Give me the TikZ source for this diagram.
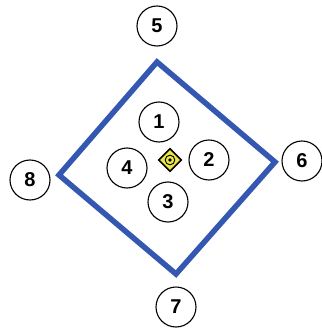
\documentclass[tikz,border=0pt]{standalone}
\usepackage{fontspec}
\setmainfont{Liberation Sans}
\usetikzlibrary{shapes.geometric}
\definecolor{frameblue}{RGB}{52,88,178}
\definecolor{markyellow}{RGB}{236,230,70}
\begin{document}
\begin{tikzpicture}[x=1pt,y=-1pt,line width=1.1pt,
  spot/.style={draw,circle,minimum size=40pt,inner sep=0pt,font=\fontsize{20}{22}\selectfont\bfseries}]
\path[use as bounding box] (0,0) rectangle (321,329);
\coordinate (top) at (157,62);
\coordinate (right) at (275,162);
\coordinate (bottom) at (176,274);
\coordinate (left) at (59,175);
\draw[frameblue,line width=5.5pt,line join=miter] (top) -- (right) -- (bottom) -- (left) -- cycle;
\node[spot] (p1) at (159,122) {1};
\node[spot] (p2) at (209,160) {2};
\node[spot] (p3) at (168,202) {3};
\node[spot] (p4) at (127,168) {4};
\node[spot] (p5) at (157,26) {5};
\node[spot] (p6) at (302,161) {6};
\node[spot] (p7) at (176,307) {7};
\node[spot] (p8) at (30,180) {8};
\node[draw,diamond,fill=markyellow,line width=1.6pt,minimum size=23pt,inner sep=0pt] (mark) at (170,160) {};
\draw[line width=.9pt] (mark.center) circle (4.8);
\fill (mark.center) circle (1.8);
\end{tikzpicture}
\end{document}
